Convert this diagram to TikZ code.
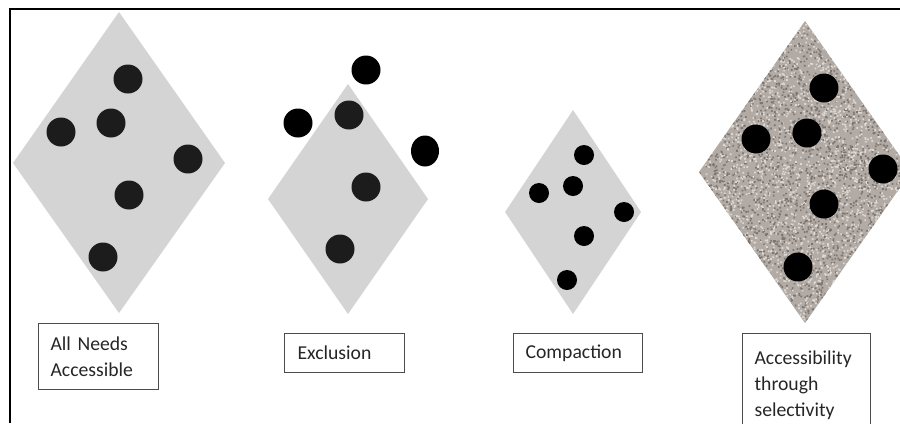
\documentclass[tikz,border=0pt]{standalone}
\usepackage{fontspec}
\setmainfont{Carlito}
\definecolor{rhombfill}{gray}{0.83}
\definecolor{granite}{RGB}{178,170,164}
\definecolor{granitedark}{RGB}{125,117,112}
\definecolor{granitelight}{RGB}{222,216,211}
\definecolor{dotcol}{gray}{0.11}
\definecolor{boxline}{gray}{0.3}
\definecolor{lbltext}{gray}{0.15}
\tikzset{
  frameline/.style={draw=black,line width=1.5pt},
  rhomb/.style={fill=rhombfill},
  need/.style={fill=dotcol},
  outneed/.style={fill=black},
  lbl/.style={draw=boxline,line width=0.8pt,anchor=north west,align=left,inner ysep=1pt,text=lbltext,font=\fontsize{14}{18.5}\selectfont},
}
\begin{document}
\begin{tikzpicture}[x=0.025cm,y=0.025cm]
  \useasboundingbox (0,0) rectangle (900,-423);
  \clip (0,0) rectangle (900,-423);
  \fill[white] (0,0) rectangle (900,-423);
  % frame
  \draw[frameline] (10,-423) -- (10,-9) -- (900,-9);
  % all needs accessible
  \fill[rhomb] (119,-12) -- (225,-163) -- (119,-313) -- (13,-163) -- cycle;
  \fill[need] (128,-79) circle (14.5);
  \fill[need] (111,-123) circle (14.5);
  \fill[need] (61,-132) circle (14.5);
  \fill[need] (188,-159) circle (14.5);
  \fill[need] (129,-195) circle (14.5);
  \fill[need] (103,-257) circle (14.5);
  \node[lbl,inner xsep=0.3cm,text width=2.4cm,minimum height=1.65cm] (allneeds) at (38,-323) {All Needs\\Accessible};
  % exclusion
  \fill[rhomb] (348,-84) -- (428,-199) -- (348,-314) -- (268,-199) -- cycle;
  \fill[outneed] (366,-70) circle (14.5);
  \fill[outneed] (298,-123) circle (14.5);
  \fill[outneed] (425,-151) ellipse (14 and 15.5);
  \fill[need] (349,-115) circle (14.5);
  \fill[need] (366,-187) circle (14.5);
  \fill[need] (340,-249) circle (14.5);
  \node[lbl,inner xsep=0.325cm,text width=2.35cm,minimum height=0.975cm] (exclusion) at (284,-333) {Exclusion};
  % compaction
  \fill[rhomb] (573,-110) -- (641,-212) -- (573,-314) -- (505,-212) -- cycle;
  \fill[outneed] (584,-155) circle (10);
  \fill[outneed] (539,-193) circle (10);
  \fill[outneed] (573,-186) circle (10);
  \fill[outneed] (624,-212) circle (10);
  \fill[outneed] (584,-236) circle (10);
  \fill[outneed] (567,-280) circle (10);
  \node[lbl,inner xsep=0.3cm,text width=2.625cm,minimum height=0.975cm] (compaction) at (513,-333) {Compaction};
  % accessibility through selectivity
  \begin{scope}
    \clip (805,-21) -- (911,-172) -- (805,-323) -- (699,-172) -- cycle;
    \fill[granite] (699,-21) rectangle (911,-323);
    \pgfmathsetseed{4711}
    \foreach \j in {1,...,8} {
      \fill[granitedark] \foreach \k in {1,...,400} {({805+106*rand},{-172+151*rand}) rectangle ++(1.7,1.7)};
      \fill[granitelight] \foreach \k in {1,...,400} {({805+106*rand},{-172+151*rand}) rectangle ++(1.7,1.7)};
    }
  \end{scope}
  \fill[outneed] (824,-88) circle (14.5);
  \fill[outneed] (756,-139) circle (14.5);
  \fill[outneed] (807,-133) circle (14.5);
  \fill[outneed] (883,-169) circle (14.5);
  \fill[outneed] (824,-204) circle (14.5);
  \fill[outneed] (798,-267) circle (14.5);
  \node[lbl,inner xsep=0.3cm,text width=2.6cm,minimum height=2.6cm] (selective) at (742,-333) {Accessibility\\through\\selectivity};
\end{tikzpicture}
\end{document}
